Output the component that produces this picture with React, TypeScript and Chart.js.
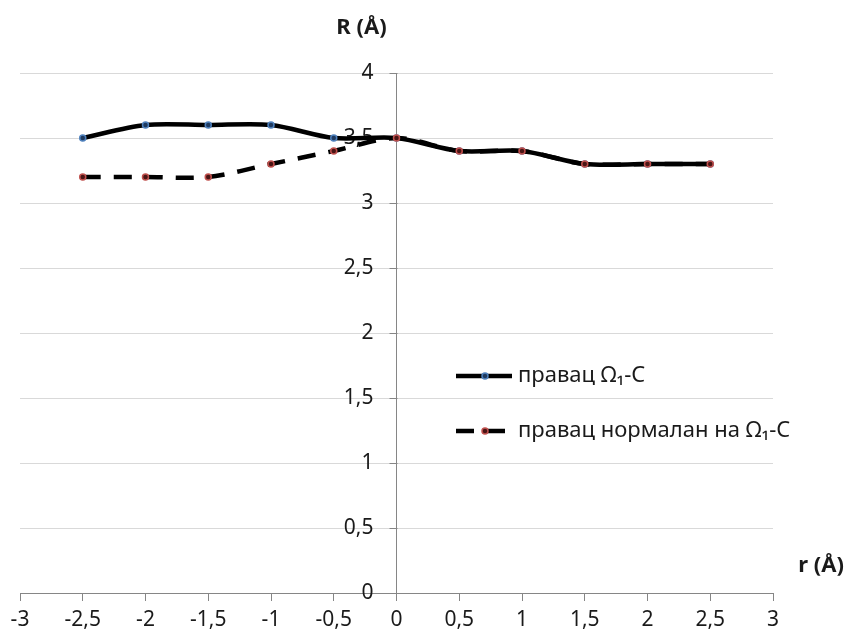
import { useEffect, useRef } from "react";
import { Chart, registerables } from "chart.js";

Chart.register(...registerables);

const xValues = [-2.5, -2, -1.5, -1, -0.5, 0, 0.5, 1, 1.5, 2, 2.5];
const seriesAlong = [3.5, 3.6, 3.6, 3.6, 3.5, 3.5, 3.4, 3.4, 3.3, 3.3, 3.3];
const seriesNormal = [3.2, 3.2, 3.2, 3.3, 3.4, 3.5, 3.4, 3.4, 3.3, 3.3, 3.3];
const seriesLabels = ["правац Ω₁-C", "правац нормалан на Ω₁-C"];
const xTitle = "r (Å)";
const yTitle = "R (Å)";
const xMin = -3;
const xMax = 3;
const yMin = 0;
const yMax = 4;
const tickStep = 0.5;

const FONT = "'Noto Sans', 'DejaVu Sans', sans-serif";
const TEXT = "#1a1a1a";
const AXIS = "#868686";
const GRID = "#d9d9d9";

const fmt = (v: number | string) => String(v).replace(".", ",");

const overlayPlugin = {
  id: "overlay",
  beforeDatasetsDraw(chart: any) {
    const ctx = chart.ctx as CanvasRenderingContext2D;
    const xs = chart.scales.x;
    const ys = chart.scales.y;
    const axisX = Math.round(xs.getPixelForValue(0)) + 0.5;
    ctx.save();
    // y-axis tick marks and labels (left of the axis line at x = 0)
    ctx.strokeStyle = AXIS;
    ctx.lineWidth = 1;
    ctx.fillStyle = TEXT;
    ctx.font = `21px ${FONT}`;
    ctx.textAlign = "right";
    ctx.textBaseline = "middle";
    for (const t of ys.ticks) {
      const py = Math.round(ys.getPixelForValue(t.value)) + 0.5;
      ctx.beginPath();
      ctx.moveTo(axisX - 8, py);
      ctx.lineTo(axisX, py);
      ctx.stroke();
      ctx.fillText(fmt(t.value), axisX - 24, py);
    }
    ctx.restore();
  },
  afterDraw(chart: any) {
    const ctx = chart.ctx as CanvasRenderingContext2D;
    const xs = chart.scales.x;
    const area = chart.chartArea;
    const axisX = Math.round(xs.getPixelForValue(0)) + 0.5;
    ctx.save();

    // axis titles
    ctx.fillStyle = TEXT;
    ctx.font = `bold 22px ${FONT}`;
    ctx.textAlign = "center";
    ctx.textBaseline = "middle";
    ctx.fillText(yTitle, axisX - 36, area.top - 45);
    ctx.fillText(xTitle, area.right + 48, area.bottom - 27);

    // legend
    const rows = [
      { ds: chart.data.datasets[0], y: 376 },
      { ds: chart.data.datasets[1], y: 431 },
    ];
    for (const r of rows) {
      const ds = r.ds;
      ctx.save();
      ctx.strokeStyle = ds.borderColor;
      ctx.lineWidth = ds.borderWidth;
      ctx.lineCap = "butt";
      ctx.setLineDash(ds.borderDash || []);
      ctx.beginPath();
      ctx.moveTo(456, r.y);
      ctx.lineTo(512, r.y);
      ctx.stroke();
      ctx.setLineDash([]);
      ctx.beginPath();
      ctx.arc(485, r.y, ds.pointRadius, 0, Math.PI * 2);
      ctx.fillStyle = ds.pointBackgroundColor;
      ctx.fill();
      ctx.lineWidth = ds.pointBorderWidth;
      ctx.strokeStyle = ds.pointBorderColor;
      ctx.stroke();
      ctx.restore();
      ctx.fillStyle = TEXT;
      ctx.font = `22px ${FONT}`;
      ctx.textAlign = "left";
      ctx.textBaseline = "middle";
      ctx.fillText(ds.label, 518, r.y);
    }
    ctx.restore();
  },
};

export default function App() {
  const ref = useRef<HTMLCanvasElement>(null);
  useEffect(() => {
    if (!ref.current) return;
    const chart = new Chart(ref.current, {
      type: "line",
      data: {
        datasets: [
          {
            label: seriesLabels[0],
            data: xValues.map((x, i) => ({ x, y: seriesAlong[i] })),
            borderColor: "#000000",
            borderWidth: 4.5,
            tension: 0.3,
            pointRadius: 3,
            pointBackgroundColor: "#1f3a5f",
            pointBorderColor: "#4f81bd",
            pointBorderWidth: 1.5,
            order: 1,
          },
          {
            label: seriesLabels[1],
            data: xValues.map((x, i) => ({ x, y: seriesNormal[i] })),
            borderColor: "#000000",
            borderWidth: 4.5,
            borderDash: [18, 13],
            tension: 0.3,
            pointRadius: 3,
            pointBackgroundColor: "#4a1515",
            pointBorderColor: "#c0504d",
            pointBorderWidth: 1.5,
            order: 0,
          },
        ] as any,
      },
      options: {
        animation: false,
        responsive: false,
        maintainAspectRatio: false,
        layout: { padding: { left: 20, right: 79, top: 73, bottom: 0 } },
        plugins: { legend: { display: false }, tooltip: { enabled: false } },
        scales: {
          x: {
            type: "linear",
            min: xMin,
            max: xMax,
            afterFit: (s: any) => {
              s.height = 43;
            },
            ticks: {
              stepSize: tickStep,
              color: TEXT,
              font: { family: FONT, size: 21 },
              padding: 6,
              maxRotation: 0,
              autoSkip: false,
              callback: (v: any) => fmt(v),
            },
            grid: {
              display: true,
              drawOnChartArea: false,
              drawTicks: true,
              tickLength: 8,
              tickColor: AXIS,
            },
            border: { display: true, color: AXIS, width: 1 },
          },
          y: {
            type: "linear",
            min: yMin,
            max: yMax,
            position: { x: 0 } as any,
            ticks: {
              stepSize: tickStep,
              display: false,
            },
            grid: {
              color: GRID,
              drawTicks: false,
            },
            border: { display: true, color: AXIS, width: 1 },
          },
        },
      } as any,
      plugins: [overlayPlugin],
    });
    return () => chart.destroy();
  }, []);
  return (
    <div style={{ position: "fixed", left: 0, top: 0, width: 852, height: 636, background: "#fff" }}>
      <canvas ref={ref} width={852} height={636} style={{ width: 852, height: 636 }} />
    </div>
  );
}
